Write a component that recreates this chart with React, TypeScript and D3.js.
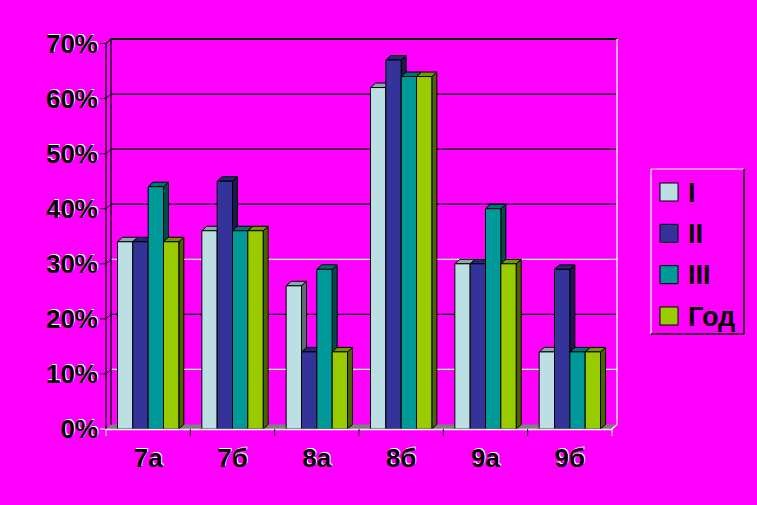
import React from "react";
import * as d3 from "d3";

const categories = ["7а", "7б", "8а", "8б", "9а", "9б"];
const seriesNames = ["I", "II", "III", "Год"];
const seriesI = [34, 36, 26, 62, 30, 14];
const seriesII = [34, 45, 14, 67, 30, 29];
const seriesIII = [44, 36, 29, 64, 40, 14];
const seriesGod = [34, 36, 14, 64, 30, 14];
const yTicks = [0, 10, 20, 30, 40, 50, 60, 70];
const colors = ["#BBDFE2", "#333399", "#009999", "#99CC00"];

const W = 757;
const H = 505;
const DX = 5;
const DY = -4.5;
const FONT = "'Liberation Sans', Arial, sans-serif";

function Txt({ x, y, anchor, size, children }: any) {
  return (
    <g fontFamily={FONT} fontWeight="bold" fontSize={size || 26} textAnchor={anchor}>
      <text x={x + 1} y={y - 1} fill="#FFFFFF">{children}</text>
      <text x={x} y={y} fill="#000000">{children}</text>
    </g>
  );
}

export default function App() {
  const values = [seriesI, seriesII, seriesIII, seriesGod];
  const x = d3.scaleBand<string>().domain(categories).range([106, 612]).paddingInner(0).paddingOuter(0);
  const sub = d3.scaleBand<string>().domain(seriesNames).range([0, x.bandwidth()]).paddingInner(0).paddingOuter(0.75);
  const y = d3.scaleLinear().domain([0, 70]).range([429, 43.5]);
  const x0 = x.range()[0];
  const x1 = x.range()[1];
  const yb = y(0);
  const ly = d3.scalePoint<string>().domain(seriesNames).range([192, 316]);

  const bars: any[] = [];
  categories.forEach((c, ci) => {
    seriesNames.forEach((s, si) => {
      const bx0 = (x(c) as number) + (sub(s) as number);
      const bx1 = bx0 + sub.bandwidth();
      const yt = y(values[si][ci]);
      const col = colors[si];
      const top = d3.color(col)!.darker(0.8).formatHex();
      const side = d3.color(col)!.darker(2).formatHex();
      bars.push(
        <g key={c + s} stroke="#000" strokeWidth={1} strokeLinejoin="round">
          <polygon points={`${bx1},${yt} ${bx1 + DX},${yt + DY} ${bx1 + DX},${yb + DY} ${bx1},${yb}`} fill={side} />
          <polygon points={`${bx0},${yt} ${bx0 + DX},${yt + DY} ${bx1 + DX},${yt + DY} ${bx1},${yt}`} fill={top} />
          <rect x={bx0} y={yt} width={bx1 - bx0} height={yb - yt} fill={col} />
        </g>
      );
    });
  });

  return (
    <svg width={W} height={H} style={{ position: "absolute", left: 0, top: 0, display: "block" }}>
      <rect x={0} y={0} width={W} height={H} fill="#FF00FF" />
      <polygon points={`${x0},${yb} ${x0 + DX},${yb + DY} ${x1 + DX},${yb + DY} ${x1},${yb}`} fill="#808080" />
      {yTicks.filter((t) => t > 0).map((t) => {
        const white = t === 10 || t === 30;
        const c = white ? "#FFFFFF" : "#000000";
        const yy = y(t);
        return (
          <g key={t}>
            <line x1={x0 + DX} x2={x1 + DX} y1={yy + DY} y2={yy + DY} stroke={c} strokeWidth={t === 70 ? 2 : 1.3} />
            <line x1={x0} x2={x0 + DX} y1={yy} y2={yy + DY} stroke="#000" strokeWidth={1} />
          </g>
        );
      })}
      {yTicks.map((t) => (
        <g key={"yt" + t}>
          <line x1={x0 - 6} x2={x0} y1={y(t)} y2={y(t)} stroke={t === 0 ? "#FFFFFF" : "#000"} strokeWidth={1} />
          <Txt x={98} y={y(t) + 9} anchor="end">{t + "%"}</Txt>
        </g>
      ))}
      <line x1={x0} x2={x0} y1={y(70)} y2={yb} stroke="#000" strokeWidth={1.3} />
      <line x1={x0 + DX} x2={x0 + DX} y1={y(70) + DY} y2={yb + DY} stroke="#000" strokeWidth={1.3} />
      <line x1={x0} x2={x0 + DX} y1={y(70)} y2={y(70) + DY} stroke="#000" strokeWidth={1.3} />
      <line x1={x1 + DX} x2={x1 + DX} y1={y(70) + DY} y2={yb + DY} stroke="#FFFFFF" strokeWidth={1.3} />
      {bars}
      <line x1={x0} x2={x1} y1={yb + 0.5} y2={yb + 0.5} stroke="#FFFFFF" strokeWidth={1.5} />
      <line x1={x1} x2={x1 + DX} y1={yb} y2={yb + DY} stroke="#FFFFFF" strokeWidth={1.2} />
      {categories.map((c, i) => (
        <line key={"xt" + c} x1={(x(c) as number)} x2={(x(c) as number)} y1={yb} y2={yb + 7} stroke={i === 0 ? "#FFFFFF" : "#000"} strokeWidth={1} />
      ))}
      <line x1={x1} x2={x1} y1={yb} y2={yb + 7} stroke="#FFFFFF" strokeWidth={1} />
      {categories.map((c) => (
        <Txt key={"xl" + c} x={(x(c) as number) + x.bandwidth() / 2} y={467} anchor="middle">{c}</Txt>
      ))}
      <g>
        <rect x={651} y={169} width={93} height={165} fill="#FF00FF" />
        <line x1={651} x2={744} y1={169} y2={169} stroke="#FFFFFF" strokeWidth={1.2} />
        <line x1={651} x2={651} y1={169} y2={334} stroke="#FFFFFF" strokeWidth={1.2} />
        <line x1={744} x2={744} y1={169} y2={334} stroke="#000" strokeWidth={1.5} />
        <line x1={651} x2={744} y1={334} y2={334} stroke="#000" strokeWidth={1.5} />
        {seriesNames.map((s, i) => (
          <g key={"lg" + s}>
            <rect x={660} y={(ly(s) as number) - 9} width={18} height={18} fill={colors[i]} stroke="#000" strokeWidth={1} />
            <text x={688} y={(ly(s) as number) + 9.5} fontFamily={FONT} fontWeight="bold" fontSize={27} fill="#000">{s}</text>
          </g>
        ))}
      </g>
    </svg>
  );
}
